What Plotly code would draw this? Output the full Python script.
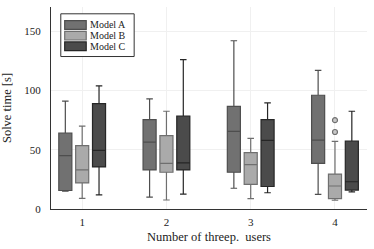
import plotly.graph_objects as go

categories = [1, 2, 3, 4]
tick_labels = ["1", "2", "3", "4"]
models = ["Model A", "Model B", "Model C"]

# Box statistics per model, per category
lower_a = [15, 10, 17.5, 12.3]
q1_a = [15.6, 33, 31, 38.5]
median_a = [45, 56.5, 65.5, 58.2]
q3_a = [64, 75.5, 86.6, 96]
upper_a = [91, 93, 142, 117]

lower_b = [9, 7.6, 8.8, 7.4]
q1_b = [22, 31, 20.8, 8.8]
median_b = [33, 38.5, 37.4, 19.4]
q3_b = [53.5, 62, 47.5, 29.5]
upper_b = [70, 82.5, 59.6, 57]

lower_c = [12, 12.5, 13.7, 14.5]
q1_c = [35.5, 33, 19, 16]
median_c = [49.5, 39, 58, 23]
q3_c = [89, 78.5, 75.5, 57.4]
upper_c = [104, 126, 89.6, 82.5]

outlier_cat = [4, 4]
outlier_vals = [65, 75]

stats = [
    (lower_a, q1_a, median_a, q3_a, upper_a),
    (lower_b, q1_b, median_b, q3_b, upper_b),
    (lower_c, q1_c, median_c, q3_c, upper_c),
]
offsets = [-0.2, 0.0, 0.2]
fills = ["#717171", "#aaaaaa", "#4b4b4b"]
lines = ["#4e4e4e", "#6f6f6f", "#262626"]

FONT = "Liberation Serif"
W, H = 374, 249
ML, MR, MT, MB = 44, 7, 7, 34
PW, PH = W - ML - MR, H - MT - MB


def px_x(p):
    return (p - ML) / PW


def px_y(p):
    return (H - MB - p) / PH


fig = go.Figure()
for name, (lo, q1, med, q3, up), off, fc, lc in zip(models, stats, offsets, fills, lines):
    fig.add_trace(go.Box(
        name=name,
        x=[c + off for c in categories],
        lowerfence=lo, q1=q1, median=med, q3=q3, upperfence=up,
        fillcolor=fc,
        line=dict(color=lc, width=1.2),
        width=0.155,
        whiskerwidth=0.5,
        boxpoints=False,
        hoverinfo="skip",
        showlegend=False,
    ))

fig.add_trace(go.Scatter(
    x=[c + offsets[1] for c in outlier_cat],
    y=outlier_vals,
    mode="markers",
    marker=dict(size=5, color="#c8c8c8", line=dict(color="#6f6f6f", width=1.2)),
    showlegend=False,
    hoverinfo="skip",
))

# Legend drawn as a framed box with swatches
shapes = [dict(type="rect", xref="paper", yref="paper",
               x0=px_x(54), x1=px_x(129), y0=px_y(58), y1=px_y(14),
               line=dict(color="#333333", width=1), fillcolor="white", layer="above")]
annotations = []
row_tops = [21, 32, 43]
for name, fc, lc, top in zip(models, fills, lines, row_tops):
    shapes.append(dict(type="rect", xref="paper", yref="paper",
                       x0=px_x(58), x1=px_x(80), y0=px_y(top + 9), y1=px_y(top),
                       line=dict(color=lc, width=1.2), fillcolor=fc, layer="above"))
    annotations.append(dict(xref="paper", yref="paper", x=px_x(82), y=px_y(top + 4.5),
                            xanchor="left", yanchor="middle", showarrow=False,
                            text=name, font=dict(family=FONT, size=10, color="#222222")))

fig.update_layout(
    width=W, height=H,
    margin=dict(l=ML, r=MR, t=MT, b=MB),
    paper_bgcolor="white",
    plot_bgcolor="white",
    boxmode="overlay",
    showlegend=False,
    font=dict(family=FONT, size=12, color="#222222"),
    shapes=shapes,
    annotations=annotations,
    xaxis=dict(
        range=[0.63, 4.38],
        tickmode="array", tickvals=categories, ticktext=tick_labels,
        showline=True, linecolor="#333333", linewidth=1,
        showgrid=True, gridcolor="#f0f0f0", gridwidth=1,
        zeroline=False,
        ticks="outside", ticklen=3, tickcolor="rgba(0,0,0,0)",
        tickfont=dict(size=11),
        title=dict(text="Number of threep.  users", font=dict(size=12.5), standoff=5),
    ),
    yaxis=dict(
        range=[0, 170.5],
        tickvals=[0, 50, 100, 150],
        showline=True, linecolor="#333333", linewidth=1,
        showgrid=True, gridcolor="#f0f0f0", gridwidth=1,
        zeroline=False,
        ticks="outside", ticklen=7, tickcolor="rgba(0,0,0,0)",
        tickfont=dict(size=11),
        title=dict(text="Solve time [s]", font=dict(size=12.5), standoff=9),
    ),
)

fig.write_html("out.html", config={"displayModeBar": False},
               post_script="document.body.style.margin='0';")
